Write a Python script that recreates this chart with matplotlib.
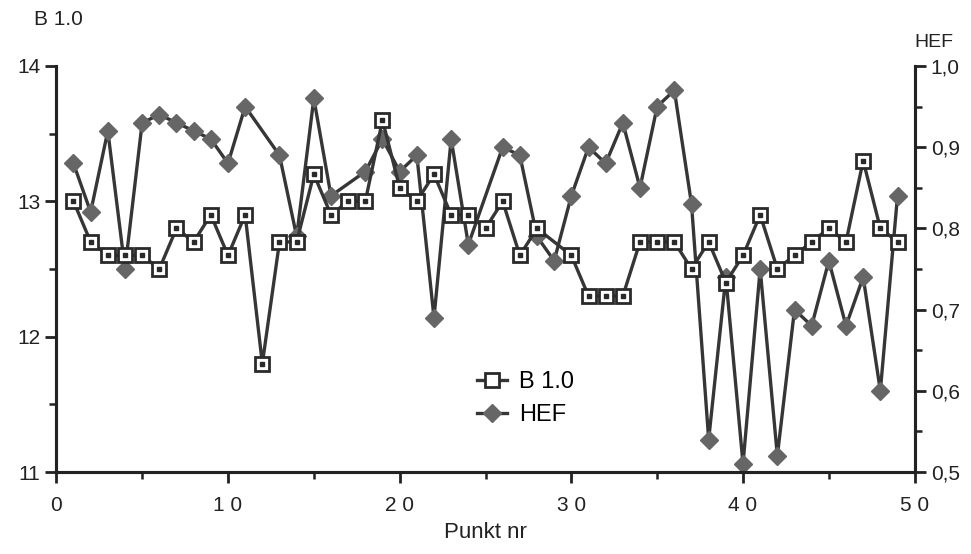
import numpy as np
import matplotlib
matplotlib.use("Agg")
import matplotlib.pyplot as plt
from matplotlib.ticker import MultipleLocator, FixedLocator, FuncFormatter

plt.rcParams["font.family"] = ["Liberation Sans", "DejaVu Sans"]

# --- Data ---
# B 1.0 (left axis); point 29 has no marker in the original
b_x = [1, 2, 3, 4, 5, 6, 7, 8, 9, 10, 11, 12, 13, 14, 15, 16, 17, 18, 19, 20,
       21, 22, 23, 24, 25, 26, 27, 28, 30, 31, 32, 33, 34, 35, 36, 37, 38, 39,
       40, 41, 42, 43, 44, 45, 46, 47, 48, 49]
b_val = [13.0, 12.7, 12.6, 12.6, 12.6, 12.5, 12.8, 12.7, 12.9, 12.6, 12.9, 11.8,
         12.7, 12.7, 13.2, 12.9, 13.0, 13.0, 13.6, 13.1, 13.0, 13.2, 12.9, 12.9,
         12.8, 13.0, 12.6, 12.8, 12.6, 12.3, 12.3, 12.3, 12.7, 12.7, 12.7, 12.5,
         12.7, 12.4, 12.6, 12.9, 12.5, 12.6, 12.7, 12.8, 12.7, 13.3, 12.8, 12.7]

# HEF (right axis); points 12, 17 and 25 have no marker in the original
hef_x = [1, 2, 3, 4, 5, 6, 7, 8, 9, 10, 11, 13, 14, 15, 16, 18, 19, 20, 21, 22,
         23, 24, 26, 27, 28, 29, 30, 31, 32, 33, 34, 35, 36, 37, 38, 39, 40, 41,
         42, 43, 44, 45, 46, 47, 48, 49]
hef_val = [0.88, 0.82, 0.92, 0.75, 0.93, 0.94, 0.93, 0.92, 0.91, 0.88, 0.95,
           0.89, 0.79, 0.96, 0.84, 0.87, 0.91, 0.87, 0.89, 0.69, 0.91, 0.78,
           0.90, 0.89, 0.79, 0.76, 0.84, 0.90, 0.88, 0.93, 0.85, 0.95, 0.97,
           0.83, 0.54, 0.74, 0.51, 0.75, 0.52, 0.70, 0.68, 0.76, 0.68, 0.74,
           0.60, 0.84]

x_ticks = [0, 10, 20, 30, 40, 50]
x_tick_labels = ["0", "1 0", "2 0", "3 0", "4 0", "5 0"]
left_ticks = [11, 12, 13, 14]
right_ticks = [0.5, 0.6, 0.7, 0.8, 0.9, 1.0]

LINE = "#363636"
DIAMOND = "#666666"
INK = "#222222"

fig = plt.figure(figsize=(9.71, 5.54), dpi=100)
ax = fig.add_axes([0.058, 0.148, 0.884, 0.733])
ax2 = ax.twinx()

# HEF series (diamonds)
ax2.plot(hef_x, hef_val, color=LINE, lw=2.4, marker="D", ms=9,
         mfc=DIAMOND, mec=DIAMOND, zorder=3)

# B 1.0 series (open squares with a dot), drawn over HEF
ax2.set_zorder(ax.get_zorder() - 1)
ax.patch.set_visible(False)
ax.plot(b_x, b_val, color=LINE, lw=2.4, marker="s", ms=10.5,
        mfc="white", mec="#2a2a2a", mew=2.0, zorder=3)
ax.plot(b_x, b_val, ls="none", marker="s", ms=2.5, color="#2a2a2a", zorder=4)

ax.set_xlim(0, 50)
ax.set_ylim(11, 14)
ax2.set_ylim(0.5, 1.0)

for a in (ax, ax2):
    a.spines["top"].set_visible(False)
    for s in ("left", "right", "bottom"):
        a.spines[s].set_linewidth(2.2)
        a.spines[s].set_color(INK)

ax.xaxis.set_major_locator(FixedLocator(x_ticks))
ax.set_xticklabels(x_tick_labels)
ax.xaxis.set_minor_locator(MultipleLocator(5))
ax.yaxis.set_major_locator(FixedLocator(left_ticks))
ax.yaxis.set_minor_locator(MultipleLocator(0.5))
ax2.yaxis.set_major_locator(FixedLocator(right_ticks))
ax2.yaxis.set_minor_locator(MultipleLocator(0.05))
ax2.yaxis.set_major_formatter(FuncFormatter(lambda v, p: f"{v:.1f}".replace(".", ",")))

ax.tick_params(axis="both", which="major", length=8, width=2.0, labelsize=15,
               color=INK, labelcolor=INK)
ax.tick_params(axis="both", which="minor", length=5, width=1.8, color=INK)
ax.tick_params(axis="x", pad=9)
ax2.tick_params(axis="y", which="major", length=8, width=2.0, labelsize=15,
                color=INK, labelcolor=INK)
ax2.tick_params(axis="y", which="minor", length=5, width=1.8, color=INK)

fig.text(0.035, 0.955, "B 1.0", fontsize=15, color=INK)
fig.text(0.942, 0.915, "HEF", fontsize=14, color=INK)
ax.set_xlabel("Punkt nr", fontsize=16, color=INK, labelpad=5)

h1, = ax.plot([], [], color=LINE, lw=2.4, marker="s", ms=10.5, mfc="white",
              mec="#2a2a2a", mew=2.0)
h2, = ax.plot([], [], color=LINE, lw=2.4, marker="D", ms=9, mfc=DIAMOND,
              mec=DIAMOND)
ax.legend([h1, h2], ["B 1.0", "HEF"], loc="upper left",
          bbox_to_anchor=(0.465, 0.30), frameon=False, fontsize=17,
          handlelength=1.3, handletextpad=0.5, labelspacing=0.45)

plt.savefig("out.png", dpi=100)
plt.close("all")
